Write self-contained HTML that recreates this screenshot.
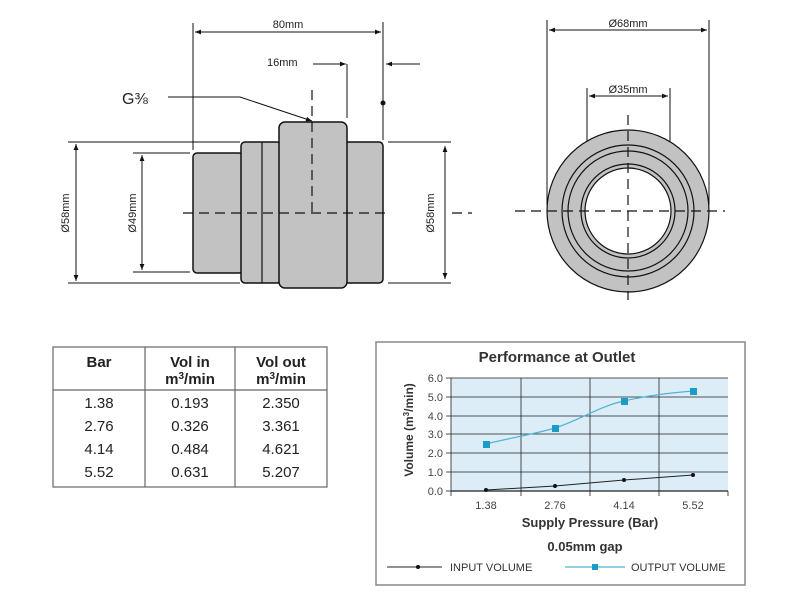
<!DOCTYPE html>
<html><head><meta charset="utf-8"><style>
html,body{margin:0;padding:0;background:#fff;}
svg{display:block;font-family:"Liberation Sans",Arial,sans-serif;}
</style></head><body>
<svg width="800" height="600" viewBox="0 0 800 600" xmlns="http://www.w3.org/2000/svg">
<defs>
<marker id="ah" viewBox="0 0 10 10" refX="10" refY="5" markerWidth="8" markerHeight="6" orient="auto-start-reverse" markerUnits="userSpaceOnUse"><path d="M0,1 L10,5 L0,9 Z" fill="#111"/></marker>
</defs>
<g stroke="#111" stroke-width="1" fill="none">
<line x1="193" y1="23" x2="193" y2="150"/>
<line x1="383" y1="22" x2="383" y2="140"/>
<line x1="195" y1="32" x2="381" y2="32" marker-start="url(#ah)" marker-end="url(#ah)"/>
<line x1="313" y1="64" x2="346" y2="64" marker-end="url(#ah)"/>
<line x1="347" y1="64" x2="347" y2="118"/>
<line x1="420" y1="64" x2="386" y2="64" marker-end="url(#ah)"/>
<circle cx="383" cy="103" r="2" fill="#111"/>
<polyline points="168,97 240,97 312,121" marker-end="url(#ah)"/>
</g>
<g fill="#c2c2c2" stroke="#111" stroke-width="1.5">
<rect x="193" y="153" width="50" height="120" rx="4"/>
<rect x="241" y="142" width="40" height="141" rx="4"/>
<rect x="344" y="142" width="39" height="141" rx="4"/>
<rect x="279" y="122" width="68" height="166" rx="6"/>
</g>
<line x1="262" y1="142" x2="262" y2="283" stroke="#111" stroke-width="1.2"/>
<g stroke="#111" stroke-width="1.2" stroke-dasharray="10,6" fill="none">
<line x1="183" y1="213" x2="385" y2="213"/>
<line x1="452" y1="213" x2="472" y2="213"/>
<line x1="312" y1="90" x2="312" y2="213"/>
</g>
<g stroke="#111" stroke-width="1" fill="none">
<line x1="68" y1="142" x2="240" y2="142"/>
<line x1="68" y1="283" x2="240" y2="283"/>
<line x1="76" y1="144" x2="76" y2="281" marker-start="url(#ah)" marker-end="url(#ah)"/>
<line x1="133" y1="153" x2="190" y2="153"/>
<line x1="133" y1="272" x2="190" y2="272"/>
<line x1="142" y1="155" x2="142" y2="270" marker-start="url(#ah)" marker-end="url(#ah)"/>
<line x1="388" y1="142" x2="451" y2="142"/>
<line x1="388" y1="283" x2="451" y2="283"/>
<line x1="445" y1="146" x2="445" y2="279" marker-start="url(#ah)" marker-end="url(#ah)"/>
</g>
<g font-size="11" fill="#222">
<text x="288" y="28" text-anchor="middle">80mm</text>
<text x="267" y="66">16mm</text>
<text x="122" y="104" font-size="16">G⅜</text>
<text transform="translate(69,213) rotate(-90)" text-anchor="middle">Ø58mm</text>
<text transform="translate(136,213) rotate(-90)" text-anchor="middle">Ø49mm</text>
<text transform="translate(434,213) rotate(-90)" text-anchor="middle">Ø58mm</text>
<text x="628" y="27" text-anchor="middle">Ø68mm</text>
<text x="628" y="93" text-anchor="middle">Ø35mm</text>
</g>
<g stroke="#111" stroke-width="1" fill="none">
<line x1="547" y1="20" x2="547" y2="205"/>
<line x1="709" y1="20" x2="709" y2="205"/>
<line x1="549" y1="30" x2="707" y2="30" marker-start="url(#ah)" marker-end="url(#ah)"/>
<line x1="587" y1="88" x2="587" y2="200"/>
<line x1="670" y1="88" x2="670" y2="200"/>
<line x1="589" y1="96" x2="668" y2="96" marker-start="url(#ah)" marker-end="url(#ah)"/>
</g>
<circle cx="628" cy="211" r="81" fill="#c2c2c2" stroke="#111" stroke-width="1.2"/>
<circle cx="628" cy="211" r="66" fill="none" stroke="#111" stroke-width="1.2"/>
<circle cx="628" cy="211" r="60" fill="none" stroke="#111" stroke-width="1.2"/>
<circle cx="628" cy="211" r="47" fill="none" stroke="#111" stroke-width="1.2"/>
<circle cx="628" cy="211" r="43" fill="#fff" stroke="#111" stroke-width="1.2"/>
<g stroke="#111" stroke-width="1.2" stroke-dasharray="10,6">
<line x1="515" y1="211" x2="725" y2="211"/>
<line x1="628" y1="115" x2="628" y2="300"/>
</g>
<g stroke="#666" stroke-width="1.2" fill="none">
<rect x="53" y="347" width="274" height="140"/>
<line x1="53" y1="390" x2="327" y2="390"/>
<line x1="145" y1="347" x2="145" y2="487"/>
<line x1="235" y1="347" x2="235" y2="487"/>
</g>
<g font-size="15" fill="#222" text-anchor="middle">
<g font-weight="bold">
<text x="99" y="367">Bar</text>
<text x="190" y="367">Vol in</text>
<text x="190" y="384">m<tspan font-size="10" dy="-5">3</tspan><tspan dy="5">/min</tspan></text>
<text x="281" y="367">Vol out</text>
<text x="281" y="384">m<tspan font-size="10" dy="-5">3</tspan><tspan dy="5">/min</tspan></text>
</g>
<text x="99" y="408">1.38</text><text x="190" y="408">0.193</text><text x="281" y="408">2.350</text>
<text x="99" y="431">2.76</text><text x="190" y="431">0.326</text><text x="281" y="431">3.361</text>
<text x="99" y="454">4.14</text><text x="190" y="454">0.484</text><text x="281" y="454">4.621</text>
<text x="99" y="477">5.52</text><text x="190" y="477">0.631</text><text x="281" y="477">5.207</text>
</g>
<rect x="376" y="342" width="369" height="243" fill="#fff" stroke="#888" stroke-width="1.5"/>
<rect x="451" y="378" width="277" height="113" fill="#dcedf7"/>
<g stroke="#222" stroke-width="0.8">
<line x1="451" y1="378" x2="728" y2="378"/>
<line x1="451" y1="397" x2="728" y2="397"/>
<line x1="451" y1="416" x2="728" y2="416"/>
<line x1="451" y1="434" x2="728" y2="434"/>
<line x1="451" y1="453" x2="728" y2="453"/>
<line x1="451" y1="472" x2="728" y2="472"/>
<line x1="521" y1="378" x2="521" y2="491"/>
<line x1="590" y1="378" x2="590" y2="491"/>
<line x1="659" y1="378" x2="659" y2="491"/>
<line x1="451" y1="378" x2="451" y2="491"/>
<line x1="451" y1="491" x2="728" y2="491" stroke-width="1.2"/>
<line x1="446" y1="378" x2="451" y2="378"/><line x1="446" y1="397" x2="451" y2="397"/><line x1="446" y1="416" x2="451" y2="416"/><line x1="446" y1="434" x2="451" y2="434"/><line x1="446" y1="453" x2="451" y2="453"/><line x1="446" y1="472" x2="451" y2="472"/><line x1="446" y1="491" x2="451" y2="491"/>
<line x1="451" y1="491" x2="451" y2="496"/><line x1="521" y1="491" x2="521" y2="496"/><line x1="590" y1="491" x2="590" y2="496"/><line x1="659" y1="491" x2="659" y2="496"/><line x1="728" y1="491" x2="728" y2="496"/>
</g>
<path d="M486,444 C510,438 535,434 555,428 C580,420 600,406 624,401 C650,395 670,393 693,391" fill="none" stroke="#4fb3d3" stroke-width="1.2"/>
<g fill="#1a9cc7"><rect x="483" y="441" width="7" height="7"/><rect x="552" y="425" width="7" height="7"/><rect x="621" y="398" width="7" height="7"/><rect x="690" y="388" width="7" height="7"/></g>
<polyline points="486,490 555,486 624,480 693,475" fill="none" stroke="#222" stroke-width="1"/>
<g fill="#111"><circle cx="486" cy="490" r="2"/><circle cx="555" cy="486" r="2"/><circle cx="624" cy="480" r="2"/><circle cx="693" cy="475" r="2"/></g>
<g font-size="11" fill="#444" text-anchor="end">
<text x="443" y="382">6.0</text><text x="443" y="401">5.0</text><text x="443" y="420">4.0</text><text x="443" y="438">3.0</text><text x="443" y="457">2.0</text><text x="443" y="476">1.0</text><text x="443" y="495">0.0</text>
</g>
<g font-size="11" fill="#444" text-anchor="middle">
<text x="486" y="509">1.38</text><text x="555" y="509">2.76</text><text x="624" y="509">4.14</text><text x="693" y="509">5.52</text>
</g>
<text x="557" y="362" font-size="15" font-weight="bold" fill="#333" text-anchor="middle">Performance at Outlet</text>
<text x="590" y="527" font-size="13" font-weight="bold" fill="#333" text-anchor="middle">Supply Pressure (Bar)</text>
<text x="585" y="551" font-size="13" font-weight="bold" fill="#333" text-anchor="middle">0.05mm gap</text>
<text transform="translate(413,430) rotate(-90)" font-size="12" font-weight="bold" fill="#333" text-anchor="middle">Volume (m<tspan font-size="8" dy="-4">3</tspan><tspan dy="4">/min)</tspan></text>
<line x1="387" y1="567" x2="442" y2="567" stroke="#222" stroke-width="1"/>
<circle cx="418" cy="567" r="2" fill="#111"/>
<text x="450" y="571" font-size="11" fill="#333">INPUT VOLUME</text>
<line x1="565" y1="567" x2="625" y2="567" stroke="#4fb3d3" stroke-width="1.2"/>
<rect x="592" y="564" width="6" height="6" fill="#1a9cc7"/>
<text x="631" y="571" font-size="11" fill="#333">OUTPUT VOLUME</text>
</svg>
</body></html>
